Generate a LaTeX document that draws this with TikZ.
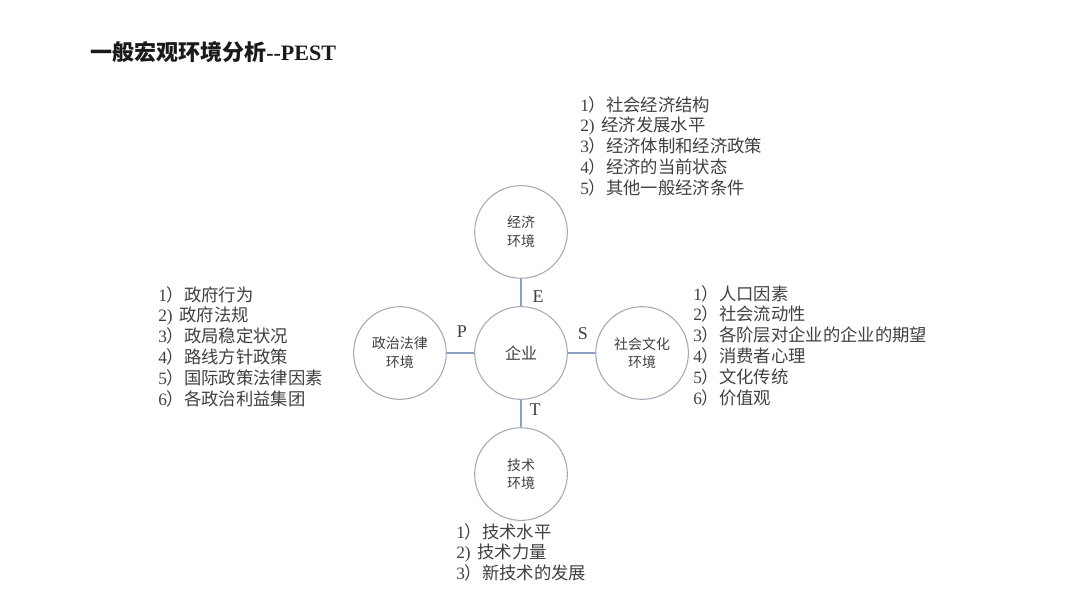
\documentclass[tikz,border=0pt]{standalone}
\usepackage{fontspec}
\setmainfont{Liberation Serif}
\newfontfamily\cjkfont{Noto Sans CJK SC}
\usepackage{tikz}
\usetikzlibrary{positioning}
\definecolor{circleline}{HTML}{A4AAB8}
\definecolor{linkline}{HTML}{8CA0C4}
\definecolor{listtext}{HTML}{404040}
\definecolor{titletext}{HTML}{1A1A1A}

\begin{document}
\begin{tikzpicture}[x=0.75pt,y=-0.75pt]
\tikzstyle{envcircle}=[circle,draw=circleline,line width=0.8pt,minimum size=69.5pt,inner sep=0pt,align=center,font=\cjkfont\fontsize{10.5}{14}\selectfont,text=listtext]
\tikzstyle{link}=[draw=linkline,line width=0.9pt]
\tikzstyle{pestlabel}=[font=\fontsize{13.5}{15}\selectfont,text=listtext,inner sep=0pt]
\tikzstyle{factorlist}=[anchor=north west,align=left,inner sep=0pt,font=\cjkfont\fontsize{13}{15.6}\selectfont,text=listtext]
\useasboundingbox (0,0) rectangle (1080,608);
\node[anchor=west,text=titletext,inner sep=0pt] (title) at (90,52) {{\cjkfont\fontsize{16.5}{20}\selectfont\bfseries 一般宏观环境分析}{\fontsize{16.5}{20}\selectfont\bfseries -{}-PEST}};
\node[envcircle,font=\cjkfont\fontsize{12}{14}\selectfont] (firm) at (521,353) {企业};
\node[envcircle,above=20.5pt of firm] (econ) {经济\\环境};
\node[envcircle,left=20.5pt of firm] (polit) {政治法律\\环境};
\node[envcircle,right=20.5pt of firm] (social) {社会文化\\环境};
\node[envcircle,below=20.5pt of firm] (tech) {技术\\环境};
\draw[link] (econ) -- node[pestlabel,xshift=12.75pt,yshift=-3pt] (labelE) {E} (firm);
\draw[link] (polit) -- node[pestlabel,xshift=1pt,yshift=15.75pt] (labelP) {P} (firm);
\draw[link] (firm) -- node[pestlabel,xshift=1pt,yshift=14.25pt] (labelS) {S} (social);
\draw[link] (firm) -- node[pestlabel,xshift=10.5pt,yshift=2.6pt] (labelT) {T} (tech);
\node[factorlist] (econlist) at (580,96) {\textrm{1}）社会经济结构\\\textrm{2)}\, 经济发展水平\\\textrm{3}）经济体制和经济政策\\\textrm{4}）经济的当前状态\\\textrm{5}）其他一般经济条件};
\node[factorlist] (politlist) at (158,286) {\textrm{1}）政府行为\\\textrm{2)}\, 政府法规\\\textrm{3}）政局稳定状况\\\textrm{4}）路线方针政策\\\textrm{5}）国际政策法律因素\\\textrm{6}）各政治利益集团};
\node[factorlist] (sociallist) at (693,285) {\textrm{1}）人口因素\\\textrm{2}）社会流动性\\\textrm{3}）各阶层对企业的企业的期望\\\textrm{4}）消费者心理\\\textrm{5}）文化传统\\\textrm{6}）价值观};
\node[factorlist] (techlist) at (456,523) {\textrm{1}）技术水平\\\textrm{2)}\, 技术力量\\\textrm{3}）新技术的发展};
\end{tikzpicture}
\end{document}
